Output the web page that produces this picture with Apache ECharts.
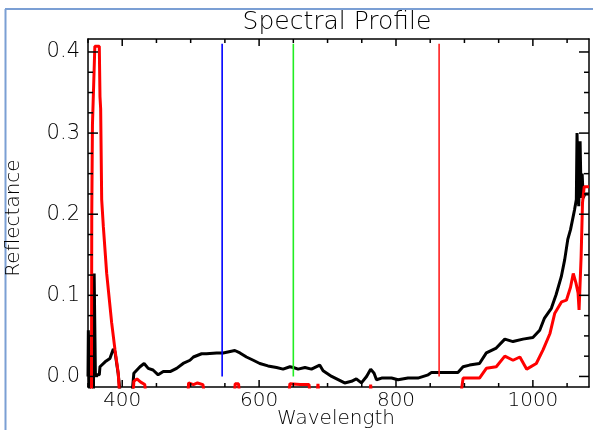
<!DOCTYPE html>
<html><head><meta charset="utf-8">
<script src="https://cdn.jsdelivr.net/npm/echarts@6/dist/echarts.min.js"></script>
<style>html,body{margin:0;padding:0;background:#fff}#c{width:593px;height:430px}</style>
</head><body><div id="c"></div>
<script>
// ---- data ----
const blackWl = [350, 350.5, 351.5, 352.5, 358, 359, 360, 360.8, 366.5, 367.5, 375, 382, 387, 389.5, 394, 397,
  414.5, 417, 419, 426, 432, 438, 445, 452.5, 460, 470, 479.5, 489, 499, 504, 516, 523, 538, 547.5, 564.5, 572,
  581.5, 591.5, 601, 613, 625.5, 635, 645, 650, 657, 667, 676.5, 688.5, 693.5, 706, 715.5, 725, 735, 742, 749.5,
  757, 763, 768, 771.5, 779, 793.5, 803, 817.5, 832, 847, 852, 866.5, 881, 890.5, 898, 907.5, 922, 932, 946.5,
  959, 971, 985.5, 1000, 1010, 1017, 1027, 1034, 1041.5, 1046.5, 1051, 1055, 1061, 1063.5, 1064.5, 1066.5, 1067,
  1068.5, 1069, 1070, 1070.5, 1072, 1073.5, 1076, 1082];
const blackVal = [0.0, 0.057, 0.057, -0.02, -0.02, 0.127, 0.127, 0.002, 0.002, 0.012, 0.018, 0.022, 0.034, 0.03, 0.004, -0.02,
  -0.02, 0.004, 0.006, 0.012, 0.016, 0.010, 0.008, 0.002, 0.006, 0.006, 0.010, 0.016, 0.020, 0.024, 0.028, 0.028, 0.029, 0.029, 0.032, 0.029,
  0.024, 0.020, 0.016, 0.013, 0.011, 0.009, 0.012, 0.011, 0.009, 0.011, 0.009, 0.014, 0.007, 0.0, -0.004, -0.008, -0.006, -0.003, -0.008,
  0.0, 0.009, 0.004, -0.004, -0.002, -0.002, -0.004, -0.002, -0.002, 0.002, 0.005, 0.005, 0.005, 0.005, 0.012, 0.014, 0.016, 0.029, 0.035,
  0.046, 0.043, 0.046, 0.048, 0.057, 0.072, 0.084, 0.101, 0.123, 0.144, 0.169, 0.181, 0.206, 0.218, 0.30, 0.30, 0.21,
  0.21, 0.29, 0.29, 0.22, 0.25, 0.22, 0.225, 0.225];

const redWl = [350, 355, 355.5, 356.5, 358, 360, 366.5, 367.5, 368.5, 370, 372.4, 377.3, 384.6, 389.4, 394.2, 398,
  414, 417, 421.5, 427, 433, 437, 494, 497, 504, 510, 518, 524, 562, 565, 570, 574, 640, 645, 660, 673, 677,
  682, 686, 690, 760, 763, 766, 890.5, 898, 922, 932, 946.5, 959, 971, 981, 991, 1005, 1015, 1025, 1032, 1042,
  1049, 1055, 1059, 1063, 1066, 1067.5, 1069.5, 1070.5, 1072.5, 1075, 1082];
const redVal = [-0.05, -0.05, 0.2, 0.31, 0.31, 0.407, 0.407, 0.345, 0.33, 0.218, 0.185, 0.127, 0.066, 0.033, 0.004, -0.05,
  -0.05, -0.006, -0.003, -0.007, -0.01, -0.05, -0.05, -0.008, -0.01, -0.008, -0.01, -0.05, -0.05, -0.009, -0.009, -0.05, -0.05, -0.009, -0.01, -0.01, -0.05,
  -0.05, -0.009, -0.05, -0.05, -0.01, -0.05, -0.05, -0.002, -0.002, 0.010, 0.012, 0.025, 0.020, 0.024, 0.009, 0.016, 0.033, 0.053, 0.078, 0.092,
  0.094, 0.11, 0.127, 0.115, 0.103, 0.082, 0.082, 0.148, 0.214, 0.234, 0.234];

const bandWl = [546, 650, 863];
const bandTop = 0.41;

const xMajorTicks = [400, 600, 800, 1000];
const xMinorTicks = [350, 450, 500, 550, 650, 700, 750, 850, 900, 950, 1050];
const yMajorTicks = [0, 0.1, 0.2, 0.3, 0.4];
const yMinorTicks = [0.025, 0.05, 0.075, 0.125, 0.15, 0.175, 0.225, 0.25, 0.275, 0.325, 0.35, 0.375];

// ---- chart ----
const zip = (a, b) => a.map((v, i) => [v, b[i]]);
const FONT = '"DejaVu Sans"';
const X_MIN = 350, X_MAX = 1082, Y_MIN = -0.013, Y_MAX = 0.416;

function xAx(pos, labels) {
  return {
    type: 'value', position: pos, min: X_MIN, max: X_MAX,
    axisLine: { show: true, onZero: false, lineStyle: { color: '#000', width: 1.5 } },
    axisTick: { show: false },
    axisLabel: labels ? { show: true, customValues: labels, color: '#000', fontFamily: 'DejaVu Sans', fontWeight: 200, fontSize: 20, margin: 4,
      formatter: v => String(Math.round(v)) } : { show: false },
    splitLine: { show: false }, minorTick: { show: false }
  };
}
function yAx(pos, labels) {
  return {
    type: 'value', position: pos, min: Y_MIN, max: Y_MAX,
    axisLine: { show: true, onZero: false, lineStyle: { color: '#000', width: 1.5 } },
    axisTick: { show: false },
    axisLabel: labels ? { show: true, customValues: labels, color: '#000', fontFamily: 'DejaVu Sans', fontWeight: 200, fontSize: 21, margin: 8,
      formatter: v => Number(v).toFixed(1) } : { show: false },
    splitLine: { show: false }, minorTick: { show: false }
  };
}

// tick marks drawn through the axis scale (api.coord)
function tickSeries(values, dir, len) {
  return {
    type: 'custom', coordinateSystem: 'cartesian2d', xAxisIndex: 0, yAxisIndex: 0, silent: true, z: 10,
    data: values.map(v => [v, 0]),
    renderItem: (params, api) => {
      const v = api.value(0);
      const lines = [];
      if (dir === 'x') {
        const b = api.coord([v, Y_MIN]), t = api.coord([v, Y_MAX]);
        lines.push({ type: 'line', shape: { x1: b[0], y1: b[1], x2: b[0], y2: b[1] - len }, style: { stroke: '#000', lineWidth: 1.5 } });
        lines.push({ type: 'line', shape: { x1: t[0], y1: t[1], x2: t[0], y2: t[1] + len }, style: { stroke: '#000', lineWidth: 1.5 } });
      } else {
        const l = api.coord([X_MIN, v]), r = api.coord([X_MAX, v]);
        lines.push({ type: 'line', shape: { x1: l[0], y1: l[1], x2: l[0] + len, y2: l[1] }, style: { stroke: '#000', lineWidth: 1.5 } });
        lines.push({ type: 'line', shape: { x1: r[0], y1: r[1], x2: r[0] - len, y2: r[1] }, style: { stroke: '#000', lineWidth: 1.5 } });
      }
      return { type: 'group', children: lines };
    }
  };
}

const bandColors = ['#0000ff', '#22ee22', '#ff2020'];
const series = [
  { type: 'line', data: zip(blackWl, blackVal), symbol: 'none', lineStyle: { color: '#000', width: 3 }, itemStyle: { color: '#000' }, z: 2 },
  { type: 'line', data: zip(redWl, redVal), symbol: 'none', lineStyle: { color: '#ff0000', width: 3 }, itemStyle: { color: '#ff0000' }, z: 3 }
];
bandWl.forEach((w, i) => series.push({
  type: 'line', data: [[w, 0], [w, bandTop]], symbol: 'none',
  lineStyle: { color: bandColors[i], width: 1.6 }, itemStyle: { color: bandColors[i] }, z: 4
}));
series.push(tickSeries(xMajorTicks, 'x', 7));
series.push(tickSeries(xMinorTicks, 'x', 4));
series.push(tickSeries(yMajorTicks, 'y', 10));
series.push(tickSeries(yMinorTicks, 'y', 5));

const chart = echarts.init(document.getElementById('c'), null, { renderer: 'canvas' });
chart.setOption({
  animation: false,
  backgroundColor: '#fff',
  grid: { left: 88, right: 4, top: 39, bottom: 43, containLabel: false },
  xAxis: [xAx('bottom', xMajorTicks), xAx('top')],
  yAxis: [yAx('left', yMajorTicks), yAx('right')],
  series: series,
  graphic: [
    { type: 'line', shape: { x1: 5.5, y1: 9, x2: 5.5, y2: 430 }, style: { stroke: '#7b9fd4', lineWidth: 2 } },
    { type: 'line', shape: { x1: 5, y1: 9, x2: 593, y2: 9 }, style: { stroke: '#7b9fd4', lineWidth: 2 } },
    { type: 'text', x: 337, y: 22, style: { text: 'Spectral Profile', fill: '#000', font: '200 25px "DejaVu Sans"', align: 'center', verticalAlign: 'middle' } },
    { type: 'text', x: 14, y: 218, rotation: Math.PI / 2, style: { text: 'Reflectance', fill: '#000', font: '200 20px "DejaVu Sans"', align: 'center', verticalAlign: 'middle' } },
    { type: 'text', x: 336, y: 419, style: { text: 'Wavelength', fill: '#000', font: '200 20px "DejaVu Sans"', align: 'center', verticalAlign: 'middle' } }
  ]
});
</script></body></html>
